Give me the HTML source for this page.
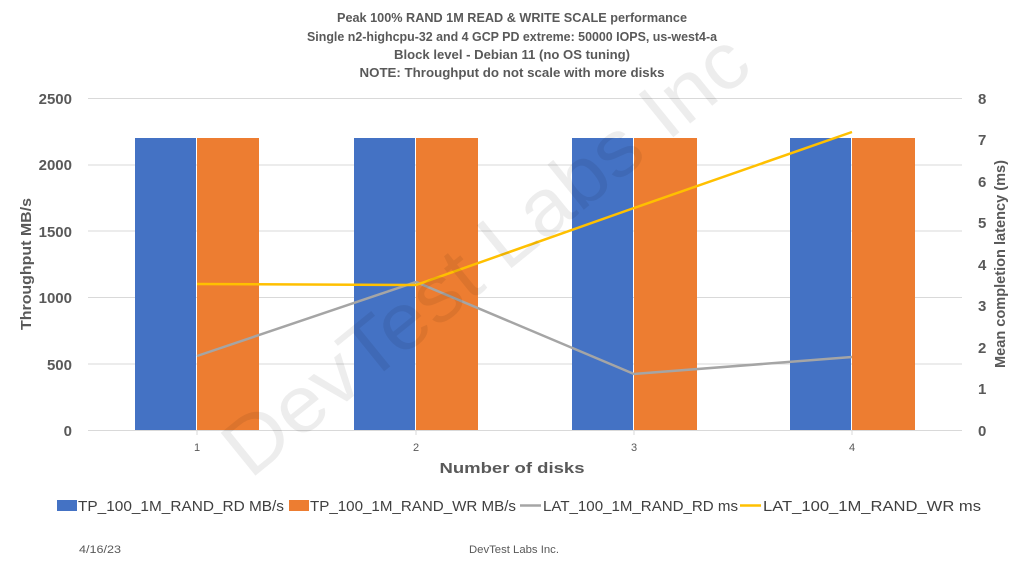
<!DOCTYPE html>
<html><head><meta charset="utf-8"><style>
html,body{margin:0;padding:0;background:#fff;}
svg{display:block;font-family:"Liberation Sans",sans-serif;}
</style></head><body>
<svg width="1024" height="576" viewBox="0 0 1024 576" xmlns="http://www.w3.org/2000/svg">
<rect width="1024" height="576" fill="#fff"/>
<g font-size="12.5" font-weight="bold" fill="#595959" text-anchor="middle">
<text x="512" y="22" textLength="350" lengthAdjust="spacingAndGlyphs">Peak  100% RAND 1M READ &amp; WRITE SCALE performance</text>
<text x="512" y="41" textLength="410" lengthAdjust="spacingAndGlyphs">Single n2-highcpu-32 and 4 GCP PD extreme: 50000 IOPS, us-west4-a</text>
<text x="512" y="59" textLength="236" lengthAdjust="spacingAndGlyphs">Block level - Debian 11 (no OS tuning)</text>
<text x="512" y="77" textLength="305" lengthAdjust="spacingAndGlyphs">NOTE: Throughput do not scale with more disks</text>
</g>
<g stroke="#d9d9d9" stroke-width="1">
<line x1="88" x2="962" y1="98.5" y2="98.5"/>
<line x1="88" x2="962" y1="165" y2="165"/>
<line x1="88" x2="962" y1="231" y2="231"/>
<line x1="88" x2="962" y1="297.5" y2="297.5"/>
<line x1="88" x2="962" y1="364" y2="364"/>
<line x1="88" x2="962" y1="430.5" y2="430.5"/>
</g>
<g stroke="#d9d9d9"><line x1="197" x2="197" y1="430" y2="435"/><line x1="416" x2="416" y1="430" y2="435"/><line x1="634" x2="634" y1="430" y2="435"/><line x1="852" x2="852" y1="430" y2="435"/></g>
<g fill="#4472c4">
<rect x="135" y="138" width="61" height="292"/><rect x="354" y="138" width="61" height="292"/><rect x="572" y="138" width="61" height="292"/><rect x="790" y="138" width="61" height="292"/>
</g>
<g fill="#ed7d31">
<rect x="197" y="138" width="62" height="292"/><rect x="416" y="138" width="62" height="292"/><rect x="634" y="138" width="63" height="292"/><rect x="852" y="138" width="63" height="292"/>
</g>
<polyline points="197,356 416,282 634,374 852,357" fill="none" stroke="#a5a5a5" stroke-width="2.5"/>
<polyline points="197,284 416,285 634,208 852,132" fill="none" stroke="#ffc000" stroke-width="2.5"/>
<text x="250" y="480" transform="rotate(-39 250 480)" font-size="80" fill="#000" fill-opacity="0.07" textLength="650" lengthAdjust="spacingAndGlyphs">DevTest Labs Inc</text>
<g font-size="15" font-weight="bold" fill="#595959" text-anchor="end">
<text x="72" y="104">2500</text><text x="72" y="170">2000</text><text x="72" y="237">1500</text><text x="72" y="303">1000</text><text x="72" y="370">500</text><text x="72" y="436">0</text>
</g>
<g font-size="15" font-weight="bold" fill="#595959" text-anchor="start">
<text x="978" y="104">8</text><text x="978" y="145">7</text><text x="978" y="187">6</text><text x="978" y="228">5</text><text x="978" y="270">4</text><text x="978" y="311">3</text><text x="978" y="353">2</text><text x="978" y="394">1</text><text x="978" y="436">0</text>
</g>
<g font-size="11" fill="#595959" text-anchor="middle">
<text x="197" y="451">1</text><text x="416" y="451">2</text><text x="634" y="451">3</text><text x="852" y="451">4</text>
</g>
<text x="512" y="473" font-size="15" font-weight="bold" fill="#595959" text-anchor="middle" textLength="145" lengthAdjust="spacingAndGlyphs">Number of disks</text>
<text transform="translate(31 264) rotate(-90)" font-size="15" font-weight="bold" fill="#595959" text-anchor="middle" textLength="132" lengthAdjust="spacingAndGlyphs">Throughput MB/s</text>
<text transform="translate(1005 264) rotate(-90)" font-size="15" font-weight="bold" fill="#595959" text-anchor="middle" textLength="208" lengthAdjust="spacingAndGlyphs">Mean completion latency (ms)</text>
<g font-size="15" fill="#404040">
<rect x="57" y="500" width="20" height="11" fill="#4472c4"/>
<text x="78" y="511" textLength="206" lengthAdjust="spacingAndGlyphs">TP_100_1M_RAND_RD MB/s</text>
<rect x="289" y="500" width="20" height="11" fill="#ed7d31"/>
<text x="310" y="511" textLength="206" lengthAdjust="spacingAndGlyphs">TP_100_1M_RAND_WR MB/s</text>
<line x1="520" x2="541" y1="505.5" y2="505.5" stroke="#a5a5a5" stroke-width="2.5"/>
<text x="543" y="511" textLength="195" lengthAdjust="spacingAndGlyphs">LAT_100_1M_RAND_RD ms</text>
<line x1="740" x2="761" y1="505.5" y2="505.5" stroke="#ffc000" stroke-width="2.5"/>
<text x="763" y="511" textLength="218" lengthAdjust="spacingAndGlyphs">LAT_100_1M_RAND_WR ms</text>
</g>
<g font-size="11" fill="#595959">
<text x="79" y="553" textLength="42" lengthAdjust="spacingAndGlyphs">4/16/23</text>
<text x="469" y="553" textLength="90" lengthAdjust="spacingAndGlyphs">DevTest Labs Inc.</text>
</g>
</svg>
</body></html>
